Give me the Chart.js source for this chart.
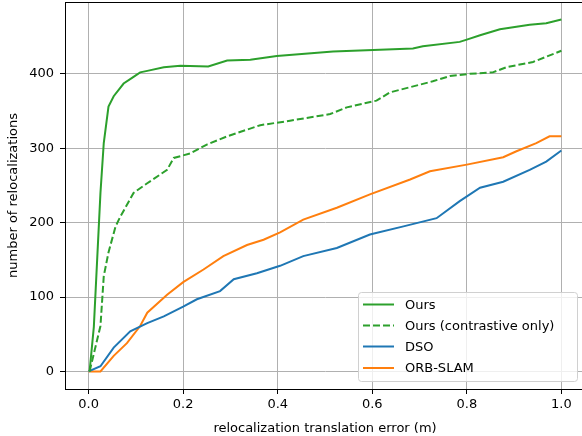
<!DOCTYPE html>
<html>
<head>
<meta charset="utf-8">
<script src="https://cdn.jsdelivr.net/npm/chart.js@4/dist/chart.umd.min.js"></script>
<style>
html,body{margin:0;padding:0;overflow:hidden;background:#fff;width:582px;height:436px;}
#wrap{position:absolute;left:0;top:0;width:590px;height:436px;}
</style>
</head>
<body>
<div id="wrap"><canvas id="c" width="590" height="436"></canvas></div>
<script>
const xTicks = [0, 0.2, 0.4, 0.6, 0.8, 1.0];
const yTicks = [0, 100, 200, 300, 400];
const seriesNames = ["Ours", "Ours (contrastive only)", "DSO", "ORB-SLAM"];

const oursX = [0.002, 0.011, 0.018, 0.025, 0.032, 0.042, 0.053, 0.074, 0.095, 0.109, 0.124, 0.159, 0.194, 0.253, 0.293, 0.342, 0.398, 0.517, 0.602, 0.686, 0.707, 0.785, 0.80, 0.828, 0.870, 0.933, 0.968, 1.0];
const oursY = [0, 60, 150, 240, 307, 356, 370, 387, 396, 402, 404, 409, 411, 410, 418, 419, 424, 430, 432, 434, 437, 443, 446, 452, 460, 466, 468, 473];

const contrX = [0.002, 0.025, 0.032, 0.042, 0.057, 0.067, 0.095, 0.124, 0.166, 0.18, 0.215, 0.25, 0.293, 0.335, 0.363, 0.426, 0.511, 0.546, 0.609, 0.637, 0.728, 0.764, 0.806, 0.855, 0.884, 0.94, 1.0];
const contrY = [0, 61, 128, 160, 195, 208, 240, 253, 271, 287, 293, 305, 316, 325, 331, 337, 346, 355, 364, 375, 390, 397, 400, 402, 409, 416, 431];

const dsoX = [0, 0.025, 0.053, 0.088, 0.124, 0.159, 0.2, 0.229, 0.278, 0.307, 0.356, 0.405, 0.454, 0.525, 0.595, 0.666, 0.736, 0.785, 0.828, 0.877, 0.933, 0.968, 1.0];
const dsoY = [0, 7, 32, 54, 65, 74, 87, 97, 108, 124, 132, 142, 155, 166, 184, 195, 206, 229, 247, 255, 271, 282, 297];

const orbX = [0, 0.025, 0.053, 0.081, 0.109, 0.124, 0.166, 0.2, 0.243, 0.285, 0.335, 0.37, 0.405, 0.454, 0.525, 0.595, 0.68, 0.722, 0.8, 0.877, 0.905, 0.947, 0.975, 1.0];
const orbY = [0, 0, 21, 38, 61, 79, 103, 120, 137, 155, 170, 177, 187, 204, 220, 238, 258, 269, 278, 288, 296, 307, 316, 316];

const FONT = "'DejaVu Sans', sans-serif";
const pts = (xs, ys) => xs.map((x, i) => ({x: x, y: ys[i]}));

const colors = ["#2ca02c", "#2ca02c", "#1f77b4", "#ff7f0e"];
const dashes = [[], [7, 3], [], []];

const framePlugin = {
  id: 'frame',
  afterDraw(chart) {
    const ctx = chart.ctx, a = chart.chartArea;
    ctx.save();
    ctx.strokeStyle = '#000';
    ctx.lineWidth = 1;
    ctx.strokeRect(Math.round(a.left) + 0.5, Math.round(a.top) + 0.5, Math.round(a.right - a.left), Math.round(a.bottom - a.top));
    // legend
    const lx = 358.5, ly = 292.5, lw = 219, lh = 89, r = 3;
    ctx.beginPath();
    ctx.moveTo(lx + r, ly);
    ctx.arcTo(lx + lw, ly, lx + lw, ly + lh, r);
    ctx.arcTo(lx + lw, ly + lh, lx, ly + lh, r);
    ctx.arcTo(lx, ly + lh, lx, ly, r);
    ctx.arcTo(lx, ly, lx + lw, ly, r);
    ctx.closePath();
    ctx.fillStyle = 'rgba(255,255,255,0.8)';
    ctx.fill();
    ctx.strokeStyle = '#d0d0d0';
    ctx.stroke();
    const rows = [304.5, 325.5, 346.5, 368];
    ctx.font = "13px " + FONT;
    ctx.textBaseline = 'middle';
    ctx.textAlign = 'left';
    seriesNames.forEach((n, i) => {
      ctx.beginPath();
      ctx.setLineDash(dashes[i]);
      ctx.strokeStyle = colors[i];
      ctx.lineWidth = 2;
      ctx.moveTo(363, rows[i]);
      ctx.lineTo(394, rows[i]);
      ctx.stroke();
      ctx.setLineDash([]);
      ctx.fillStyle = '#000';
      ctx.fillText(n, 405, rows[i] + 1);
    });
    ctx.restore();
  }
};

const allX = [oursX, contrX, dsoX, orbX];
const allY = [oursY, contrY, dsoY, orbY];

function noPad(s) { s.paddingTop = 0; s.paddingBottom = 0; s.paddingLeft = 0; s.paddingRight = 0; }

new Chart(document.getElementById('c'), {
  type: 'line',
  data: {
    datasets: seriesNames.map((n, i) => ({
      label: n,
      data: pts(allX[i], allY[i]),
      borderColor: colors[i],
      borderWidth: 2,
      borderDash: dashes[i],
      pointRadius: 0,
      fill: false,
      tension: 0
    }))
  },
  options: {
    responsive: false,
    animation: false,
    layout: {padding: {left: 0, top: 2, right: 5, bottom: 0}},
    plugins: {legend: {display: false}, tooltip: {enabled: false}},
    scales: {
      x: {
        type: 'linear', min: -0.05, max: 1.05,
        afterBuildTicks: s => { s.ticks = xTicks.map(v => ({value: v})); },
        afterFit: s => { s.height = 47; noPad(s); },
        ticks: {color: '#000', font: {family: FONT, size: 13}, padding: 3, maxRotation: 0,
          callback: v => v.toFixed(1)},
        grid: {color: '#b0b0b0', lineWidth: 1, tickColor: '#000', tickLength: 5},
        border: {color: '#000', width: 1},
        title: {display: true, text: 'relocalization translation error (m)', color: '#000',
          font: {family: FONT, size: 13}, padding: {top: 1, bottom: 0}}
      },
      y: {
        type: 'linear', min: -23.6, max: 496.6,
        afterBuildTicks: s => { s.ticks = yTicks.map(v => ({value: v})); },
        afterFit: s => { s.width = 65; noPad(s); },
        ticks: {color: '#000', font: {family: FONT, size: 13}, padding: 6,
          callback: v => String(v)},
        grid: {color: '#b0b0b0', lineWidth: 1, tickColor: '#000', tickLength: 5},
        border: {color: '#000', width: 1},
        title: {display: true, text: 'number of relocalizations', color: '#000',
          font: {family: FONT, size: 13}, padding: {top: 6, bottom: 0}}
      }
    }
  },
  plugins: [framePlugin]
});
</script>
</body>
</html>
